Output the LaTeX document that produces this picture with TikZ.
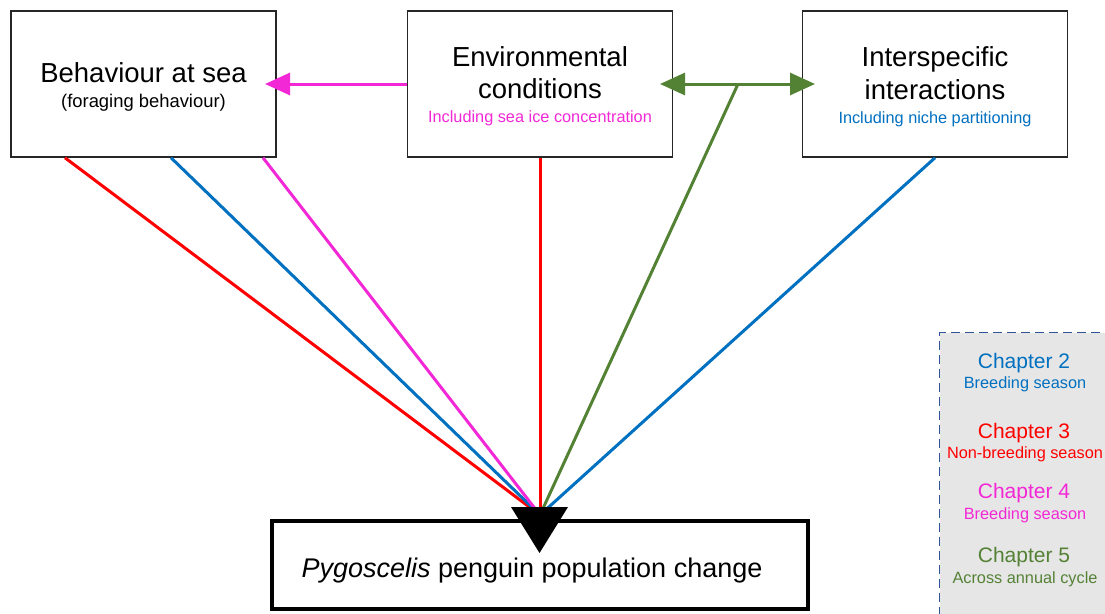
\documentclass[tikz,border=0pt]{standalone}
\usepackage{fontspec}
\setmainfont{Liberation Sans}
\usetikzlibrary{arrows.meta}
\definecolor{cred}{RGB}{255,0,0}
\definecolor{cblue}{RGB}{0,112,192}
\definecolor{cgreen}{RGB}{84,130,53}
\definecolor{cmag}{RGB}{242,40,214}
\definecolor{lgfill}{RGB}{231,230,230}
\definecolor{lgborder}{RGB}{47,85,151}
\newcommand{\fsz}[1]{\fontsize{#1}{#1}\selectfont}
\tikzset{
  box/.style={draw=black!85, line width=1.5pt, fill=white, minimum width=265pt, minimum height=146pt, inner sep=0pt},
  popbox/.style={draw=black, line width=3.5pt, fill=white, minimum width=536pt, minimum height=88pt, inner sep=0pt},
  bigtxt/.style={anchor=base, inner sep=0pt, font=\fsz{27.5}},
  smalltxt/.style={anchor=base, inner sep=0pt, font=\fsz{16.3}},
  chtxt/.style={anchor=base, inner sep=0pt, font=\fsz{21}},
  link/.style={line width=3pt},
  bighead/.style={line width=3pt, {Triangle[length=25pt,width=22pt]}-{Triangle[length=25pt,width=22pt]}},
}
\begin{document}
\begin{tikzpicture}[x=1pt,y=-1pt]
\useasboundingbox (0,0) rectangle (1105,613);
\clip (0,0) rectangle (1105,613);
% legend
\node[draw=lgborder, dash pattern=on 9pt off 5pt, line width=1.3pt, fill=lgfill, anchor=north west, minimum width=200pt, minimum height=320pt, inner sep=0pt] (legend) at (939,332) {};
\node[chtxt, text=cblue] (l2) at (1024,368) {Chapter 2};
\node[smalltxt, text=cblue] (l2s) at (1025,388) {Breeding season};
\node[chtxt, text=cred] (l3) at (1024,438) {Chapter 3};
\node[smalltxt, text=cred] (l3s) at (1025,458) {Non-breeding season};
\node[chtxt, text=cmag] (l4) at (1024,498) {Chapter 4};
\node[smalltxt, text=cmag] (l4s) at (1025,519) {Breeding season};
\node[chtxt, text=cgreen] (l5) at (1024,562) {Chapter 5};
\node[smalltxt, text=cgreen] (l5s) at (1025,583) {Across annual cycle};
% boxes
\node[box] (beh) at (143.5,84) {};
\node[box] (env) at (540,84) {};
\node[box] (int) at (935,84) {};
\node[popbox] (pop) at (540,565) {};
% texts
\node[bigtxt] (behT) at (143.5,82) {Behaviour at sea};
\node[anchor=base, inner sep=0pt, font=\fsz{18.4}] (behS) at (143.5,107) {(foraging behaviour)};
\node[bigtxt] (envT1) at (540,66.7) {Environmental};
\node[bigtxt] (envT2) at (540,98.5) {conditions};
\node[smalltxt, text=cmag] (envS) at (540,122.5) {Including sea ice concentration};
\node[bigtxt] (intT1) at (935,66.7) {Interspecific};
\node[bigtxt] (intT2) at (935,99.3) {interactions};
\node[smalltxt, text=cblue] (intS) at (935,123) {Including niche partitioning};
\node[anchor=base, inner sep=0pt, font=\fsz{27}] (popT) at (532,577) {\textit{Pygoscelis} penguin population change};
% convergence
\coordinate (conv) at (540,515);
\coordinate (gsplit) at (738,84);
\draw[link, cred] (65,157.75) -- (conv);
\draw[link, cblue] (171,157.75) -- (conv);
\draw[link, cmag] (263,157.75) -- (conv);
\draw[link, cred] (env.south) -- (conv);
\draw[link, cgreen] (gsplit) -- (conv);
\draw[link, cblue] (int.south) -- (conv);
% arrows between boxes
\draw[line width=3pt, cmag, -{Triangle[length=25pt,width=22pt]}] (env.west) -- (265,84);
\draw[bighead, cgreen] (660,84) -- (815,84);
% big arrow head
\fill[black] (511,507) -- (568,507) -- (539.5,553) -- cycle;
\end{tikzpicture}
\end{document}
